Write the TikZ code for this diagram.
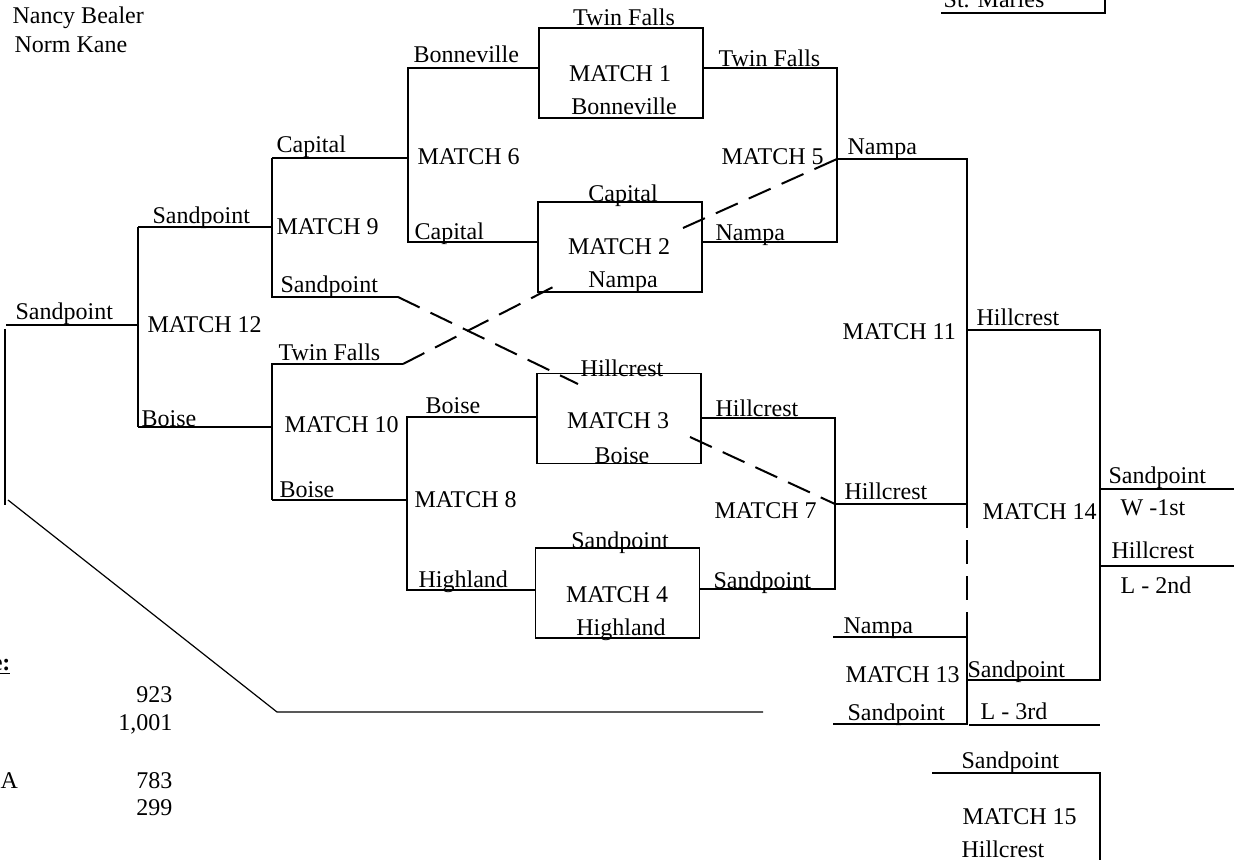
\documentclass[tikz,border=0pt]{standalone}
\usepackage{fontspec}
\setmainfont{Liberation Serif}
\tikzset{
  mbox/.style={draw, minimum width=82pt, minimum height=45pt, inner sep=0pt},
  tleft/.style={anchor=base west, inner sep=0pt},
  tmid/.style={anchor=base, inner sep=0pt},
  tright/.style={anchor=base east, inner sep=0pt},
  crossline/.style={line width=1pt, dash pattern=on 12pt off 6pt}
}
\newcommand{\brboxes}{
\node[mbox] (m1) at (621, 73) {};
\node[mbox] (m2) at (620, 247) {};
\node[mbox] (m3) at (619, 418.5) {};
\node[mbox] (m4) at (617.5, 593) {};
}
\newcommand{\brcorners}{
\coordinate (m12o) at (6, 325);
\coordinate (m12m) at (138, 325);
\coordinate (m12t) at (138, 227);
\coordinate (m12b) at (138, 427);
\coordinate (m9t) at (272, 158);
\coordinate (m9m) at (272, 227);
\coordinate (m9b) at (272, 297);
\coordinate (m9e) at (398, 297);
\coordinate (m10t) at (272, 364);
\coordinate (m10m) at (272, 427);
\coordinate (m10b) at (272, 500);
\coordinate (m10e) at (403, 364);
\coordinate (m6t) at (408, 68);
\coordinate (m6m) at (408, 158);
\coordinate (m6b) at (408, 242);
\coordinate (m8t) at (407, 417);
\coordinate (m8m) at (407, 500);
\coordinate (m8b) at (407, 590);
\coordinate (m5t) at (837, 68);
\coordinate (m5m) at (837, 159);
\coordinate (m5b) at (837, 242);
\coordinate (m7t) at (835, 418);
\coordinate (m7m) at (835, 504);
\coordinate (m7b) at (835, 589);
\coordinate (m11t) at (967, 159);
\coordinate (m11m) at (967, 330);
\coordinate (m11b) at (967, 504);
\coordinate (m13a) at (833, 637);
\coordinate (m13t) at (967, 637);
\coordinate (m13m) at (967, 680);
\coordinate (m13b) at (967, 724);
\coordinate (m13c) at (833, 724);
\coordinate (m13r) at (969, 725);
\coordinate (m13re) at (1100, 725);
\coordinate (m14t) at (1100, 330);
\coordinate (m14w) at (1100, 489);
\coordinate (m14l) at (1100, 566);
\coordinate (m14b) at (1100, 680);
\coordinate (m14we) at (1234, 489);
\coordinate (m14le) at (1234, 566);
\coordinate (m15a) at (932, 773);
\coordinate (m15t) at (1100, 773);
\coordinate (m15e) at (1100, 862);
\coordinate (sma) at (941, 13);
\coordinate (smt) at (1105, 13);
\coordinate (sme) at (1105, -2);
\coordinate (lla) at (5, 329);
\coordinate (llb) at (5, 505);
\coordinate (llc) at (8, 500);
\coordinate (lld) at (277, 712);
\coordinate (lle) at (763, 712);
\coordinate (x2a) at (555, 286);
\coordinate (x2b) at (683, 228);
\coordinate (x3a) at (578, 384);
\coordinate (x3b) at (690, 437);
}
\newcommand{\brlines}{
\draw (m12o) -- (m12m);
\draw (m12t) -- (m12b);
\draw (m12t) -- (m9m);
\draw (m12b) -- (m10m);
\draw (m9t) -- (m9b) -- (m9e);
\draw (m10e) -- (m10t) -- (m10b);
\draw (m9t) -- (m6m);
\draw (m10b) -- (m8m);
\draw (m6t -| m1.west) -- (m6t) -- (m6b) -- (m6b -| m2.west);
\draw (m8t -| m3.west) -- (m8t) -- (m8b) -- (m8b -| m4.west);
\draw (m5t -| m1.east) -- (m5t) -- (m5b) -- (m5b -| m2.east);
\draw (m7t -| m3.east) -- (m7t) -- (m7b) -- (m7b -| m4.east);
\draw (m5m) -- (m11t) -- (m11b);
\draw (m7m) -- (m11b);
\draw (m13a) -- (m13t) -- (m13b) -- (m13c);
\draw (m11m) -- (m14t) -- (m14b) -- (m13m);
\draw (m13r) -- (m13re);
\draw (m14w) -- (m14we);
\draw (m14l) -- (m14le);
\draw (m15a) -- (m15t) -- (m15e);
\draw (sma) -- (smt) -- (sme);
\draw (lla) -- (llb);
\draw (llc) -- (lld) -- (lle);
}
\newcommand{\brcrosslines}{
\draw (m9e) -- (x3a);
\draw (m10e) -- (x2a);
\draw (x2b) -- (m5m);
\draw (x3b) -- (m7m);
\draw (m11b) -- (m13t);
}
\newcommand{\brteams}{
\node[tmid] (m1top) at (624, 26) {Twin Falls};
\node[tmid] (m1bot) at (624, 115) {Bonneville};
\node[tmid] (m2top) at (623, 202) {Capital};
\node[tmid] (m2bot) at (623, 288) {Nampa};
\node[tmid] (m3top) at (622, 377) {Hillcrest};
\node[tmid] (m3bot) at (622, 463) {Boise};
\node[tmid] (m4top) at (620, 548) {Sandpoint};
\node[tmid] (m4bot) at (621, 635) {Highland};
\node[tleft] (m12win) at (15, 320) {Sandpoint};
\node[tleft] (m9win) at (152, 224) {Sandpoint};
\node[tleft] (m10win) at (141, 426) {Boise};
\node[tleft] (m6win) at (276, 153) {Capital};
\node[tleft] (m9los) at (280, 293) {Sandpoint};
\node[tleft] (m10los) at (278, 361) {Twin Falls};
\node[tleft] (m8win) at (279, 497) {Boise};
\node[tleft] (m1los) at (413, 63) {Bonneville};
\node[tleft] (m2los) at (414, 240) {Capital};
\node[tleft] (m3los) at (425, 413) {Boise};
\node[tleft] (m4los) at (418, 587) {Highland};
\node[tleft] (m1win) at (718, 67) {Twin Falls};
\node[tleft] (m2win) at (715, 241) {Nampa};
\node[tleft] (m3win) at (715, 416) {Hillcrest};
\node[tleft] (m4win) at (713, 588) {Sandpoint};
\node[tleft] (m5win) at (847, 155) {Nampa};
\node[tleft] (m7win) at (844, 499) {Hillcrest};
\node[tleft] (m11win) at (976, 326) {Hillcrest};
\node[tleft] (m13top) at (843, 633) {Nampa};
\node[tleft] (m13bot) at (847, 720) {Sandpoint};
\node[tleft] (m13win) at (967, 677) {Sandpoint};
\node[tleft] (m14win) at (1108, 483) {Sandpoint};
\node[tleft] (m14los) at (1111, 558) {Hillcrest};
\node[tleft] (m15top) at (961, 768) {Sandpoint};
\node[tleft] (m15bot) at (961, 857) {Hillcrest};
\node[tmid] (stm) at (994, 8) {St. Maries};
}
\newcommand{\brmatches}{
\node[tmid] (n1) at (620, 82) {MATCH 1};
\node[tmid] (n2) at (619, 255) {MATCH 2};
\node[tmid] (n3) at (618, 428) {MATCH 3};
\node[tmid] (n4) at (617, 602) {MATCH 4};
\node[tleft] (n5) at (721, 165) {MATCH 5};
\node[tleft] (n6) at (417, 165) {MATCH 6};
\node[tleft] (n7) at (714, 518) {MATCH 7};
\node[tleft] (n8) at (414, 507) {MATCH 8};
\node[tleft] (n9) at (276, 235) {MATCH 9};
\node[tleft] (n10) at (284, 432) {MATCH 10};
\node[tleft] (n11) at (842, 340) {MATCH 11};
\node[tleft] (n12) at (147, 333) {MATCH 12};
\node[tleft] (n13) at (845, 682) {MATCH 13};
\node[tleft] (n14) at (982, 519) {MATCH 14};
\node[tleft] (n15) at (962, 824) {MATCH 15};
\node[tleft] (place1) at (1120, 515) {W -1st};
\node[tleft] (place2) at (1120, 593) {L - 2nd};
\node[tleft] (place3) at (980, 719) {L - 3rd};
}
\newcommand{\brnotes}{
\node[tleft] (coach1) at (12, 24) {Nancy Bealer};
\node[tleft] (coach2) at (14, 53) {Norm Kane};
\node[tright] (atthead) at (11, 670) {\underline{\textbf{e:}}};
\node[tright] (att1) at (173, 702) {923};
\node[tright] (att2) at (173, 730) {1,001};
\node[tleft] (att3a) at (0, 788) {A};
\node[tright] (att3) at (173, 788) {783};
\node[tright] (att4) at (173, 815) {299};
}
\begin{document}
\begin{tikzpicture}[x=0.5pt, y=-0.5pt, line width=0.6pt, font=\fontsize{12}{14}\selectfont]
\useasboundingbox (0,0) rectangle (1234,860);
% match boxes
\brboxes

% bracket corners
\brcorners

% bracket lines
\brlines

% crossover lines
\begin{scope}[crossline]
\brcrosslines
\end{scope}

% labels
\brteams
\brmatches
\brnotes
\end{tikzpicture}
\end{document}
